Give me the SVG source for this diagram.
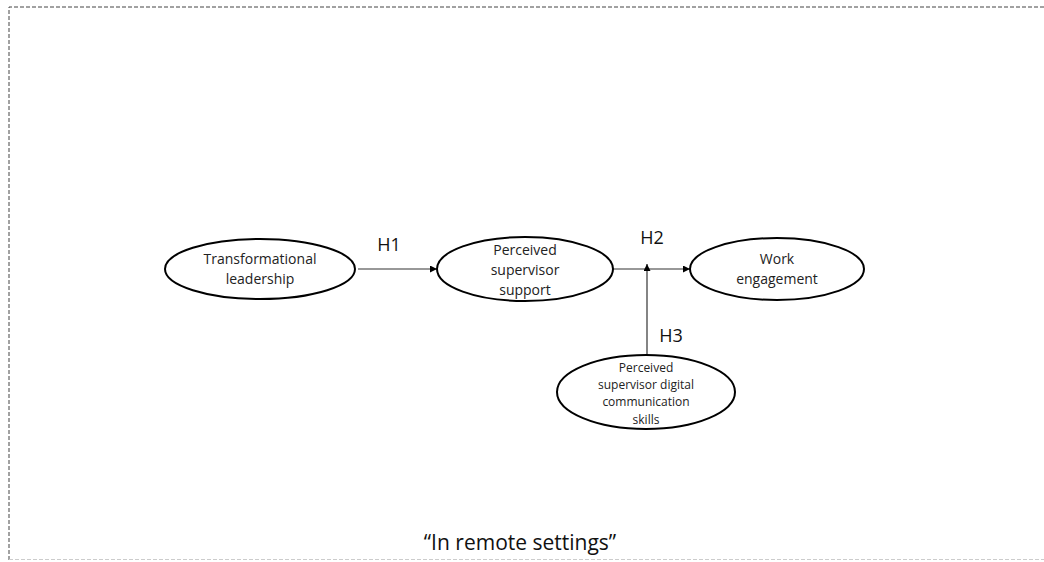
<svg xmlns="http://www.w3.org/2000/svg" width="1044" height="562" viewBox="0 0 1044 562">
<style>
.node{fill:#fff;stroke:#000;stroke-width:2}
.t{font-family:"Open Sans","Liberation Sans",sans-serif;font-size:14px;fill:#222;text-anchor:middle}
.ts{font-family:"Open Sans","Liberation Sans",sans-serif;font-size:12px;fill:#222;text-anchor:middle}
.lbl{font-family:"Open Sans","Liberation Sans",sans-serif;font-size:18px;fill:#111;text-anchor:middle}
.edge{stroke:#333;stroke-width:1.2;fill:none}
</style>
<defs>
<marker id="ah" viewBox="0 0 10 10" refX="10" refY="5" markerWidth="7" markerHeight="7" orient="auto" markerUnits="userSpaceOnUse">
<path d="M0,0 L10,5 L0,10 z" fill="#000"/>
</marker>
</defs>
<rect width="1044" height="562" fill="#fff"/>
<path d="M9,560 L9,7 L1044,7" fill="none" stroke="#444" stroke-width="1" stroke-dasharray="4,2"/>
<path d="M9,559.5 L1044,559.5" fill="none" stroke="#ccc" stroke-width="1" stroke-dasharray="4,2"/>
<g id="connectors">
<line class="edge" x1="358" y1="269" x2="437" y2="269" marker-end="url(#ah)"/>
<line class="edge" x1="613" y1="269" x2="690" y2="269" marker-end="url(#ah)"/>
<line class="edge" x1="647" y1="355" x2="647" y2="264" marker-end="url(#ah)"/>
<text class="lbl" x="389" y="251">H1</text>
<text class="lbl" x="652" y="244">H2</text>
<text class="lbl" x="671" y="342">H3</text>
</g>
<g id="n1">
<ellipse class="node" cx="260" cy="269" rx="95" ry="30"/>
<text class="t" x="260" y="264">Transformational</text>
<text class="t" x="260" y="284">leadership</text>
</g>
<g id="n2">
<ellipse class="node" cx="525" cy="269" rx="88" ry="32"/>
<text class="t" x="525" y="255">Perceived</text>
<text class="t" x="525" y="275">supervisor</text>
<text class="t" x="525" y="295">support</text>
</g>
<g id="n3">
<ellipse class="node" cx="777" cy="269" rx="87" ry="31"/>
<text class="t" x="777" y="264">Work</text>
<text class="t" x="777" y="284">engagement</text>
</g>
<g id="n4">
<ellipse class="node" cx="646" cy="392" rx="89" ry="37"/>
<text class="ts" x="646" y="372">Perceived</text>
<text class="ts" x="646" y="389">supervisor digital</text>
<text class="ts" x="646" y="406">communication</text>
<text class="ts" x="646" y="424">skills</text>
</g>
<text class="lbl" x="520" y="550" style="font-size:21px">“In remote settings”</text>
</svg>
